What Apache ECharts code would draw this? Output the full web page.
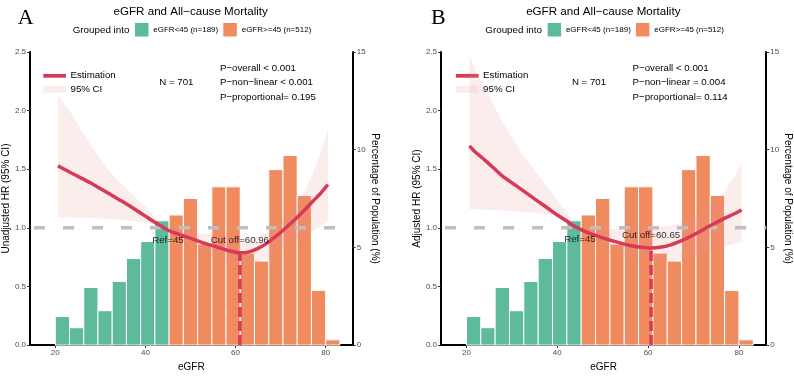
<!DOCTYPE html>
<html>
<head>
<meta charset="utf-8">
<script src="https://cdn.jsdelivr.net/npm/echarts@6/dist/echarts.min.js"></script>
<style>
html,body{margin:0;padding:0;background:#fff;overflow:hidden;}
#chart{width:794px;height:377px;}
</style>
</head>
<body>
<div id="chart"></div>
<script>
// ---------- data ----------
const panelLetters = ['A', 'B'];
const titleText = 'eGFR and All\u2212cause Mortality';
const groupLabels = ['eGFR<45 (n=189)', 'eGFR>=45 (n=512)'];
const yAxisNames = ['Unadjusted HR (95% CI)', 'Adjusted HR (95% CI)'];
const y2AxisName = 'Percentage of Population (%)';
const xAxisName = 'eGFR';
const nText = 'N = 701';
const pTextsUnadj = ['P\u2212overall < 0.001', 'P\u2212non\u2212linear < 0.001', 'P\u2212proportional= 0.195'];
const pTextsAdj = ['P\u2212overall < 0.001', 'P\u2212non\u2212linear = 0.004', 'P\u2212proportional= 0.114'];

const hrTicks = [0, 0.5, 1.0, 1.5, 2.0, 2.5];
const pctTicks = [0, 5, 10, 15];
const xTicks = [20, 40, 60, 80];

// histogram (percentage of population per eGFR bin)
const binStart = [20.00, 23.16, 26.32, 29.47, 32.63, 35.79, 38.95, 42.11, 45.26, 48.42,
                  51.58, 54.74, 57.89, 61.05, 64.21, 67.37, 70.53, 73.68, 76.84, 80.00];
const binWidth = 3.16;
const binPct = [1.46, 0.89, 2.95, 1.76, 3.26, 4.43, 5.30, 6.36, 6.66, 7.50,
                5.17, 8.10, 8.10, 4.71, 4.30, 8.98, 9.70, 7.66, 2.80, 0.27];
const refValue = 45;

// unadjusted spline
const egfrUnadj = [20.6, 22, 24, 26, 28, 30, 32, 34, 36, 38, 40, 42, 43.5, 45, 47, 50, 53, 56, 58.5, 61,
                   63, 65, 67, 69, 71, 73, 75, 77, 79, 80.5];
const hrUnadj = [1.53, 1.50, 1.46, 1.42, 1.38, 1.335, 1.29, 1.245, 1.20, 1.15, 1.10, 1.05, 1.015, 0.98, 0.95,
                 0.91, 0.87, 0.835, 0.805, 0.787, 0.795, 0.825, 0.87, 0.93, 0.995, 1.065, 1.14, 1.22, 1.30, 1.37];
const loUnadj = [1.09, 1.089, 1.088, 1.086, 1.084, 1.08, 1.076, 1.07, 1.063, 1.055, 1.045, 1.03, 1.005, 0.98, 0.93,
                 0.86, 0.79, 0.74, 0.70, 0.68, 0.685, 0.705, 0.74, 0.785, 0.83, 0.87, 0.92, 0.97, 1.015, 1.05];
const hiUnadj = [2.14, 2.06, 1.95, 1.82, 1.70, 1.59, 1.49, 1.40, 1.33, 1.25, 1.18, 1.10, 1.04, 0.98, 0.975,
                 0.965, 0.95, 0.93, 0.915, 0.90, 0.905, 0.925, 0.96, 1.01, 1.08, 1.17, 1.29, 1.45, 1.65, 1.84];
const cutUnadj = 60.96, cutHrUnadj = 0.787;

// adjusted spline
const egfrAdj = [20.66, 22, 24, 26, 28, 30, 32, 34, 36, 38, 40, 42, 43.5, 45, 47, 50, 53, 56, 58.5, 60.65,
                 63, 65, 67, 69, 71, 73, 75, 77, 79, 80.6];
const hrAdj = [1.70, 1.645, 1.58, 1.51, 1.44, 1.385, 1.33, 1.275, 1.22, 1.165, 1.11, 1.06, 1.02, 0.99, 0.955,
               0.915, 0.88, 0.85, 0.835, 0.828, 0.837, 0.855, 0.885, 0.92, 0.96, 1.005, 1.045, 1.085, 1.12, 1.152];
const loAdj = [1.16, 1.158, 1.155, 1.152, 1.148, 1.143, 1.138, 1.132, 1.125, 1.115, 1.10, 1.075, 1.035, 0.99, 0.93,
               0.86, 0.80, 0.755, 0.725, 0.71, 0.71, 0.715, 0.73, 0.75, 0.77, 0.79, 0.815, 0.84, 0.865, 0.88];
const hiAdj = [2.47, 2.34, 2.20, 2.05, 1.90, 1.77, 1.65, 1.54, 1.44, 1.34, 1.24, 1.14, 1.06, 0.99, 0.99,
               0.99, 0.99, 0.99, 0.995, 1.00, 1.01, 1.02, 1.04, 1.07, 1.11, 1.16, 1.23, 1.32, 1.44, 1.55];
const cutAdj = 60.65, cutHrAdj = 0.828;

// ---------- styles / layout ----------
const GREEN = '#5DBA9B', ORANGE = '#F08A5F', RED = '#D73A56';
const BAND = 'rgba(240,150,150,0.17)';
const FONT = 'Liberation Sans';
const xMin = 14.4, xMax = 86;
const grids = [
  {left: 29, top: 52, width: 323.7, height: 301},
  {left: 441, top: 52, width: 325.7, height: 301}
];
const labelHR = [[0.89, 0.89], [0.905, 0.94]];

const panels = [
  {egfr: egfrUnadj, hr: hrUnadj, lo: loUnadj, hi: hiUnadj, cut: cutUnadj, cutHr: cutHrUnadj, p: pTextsUnadj},
  {egfr: egfrAdj, hr: hrAdj, lo: loAdj, hi: hiAdj, cut: cutAdj, cutHr: cutHrAdj, p: pTextsAdj}
];

const chart = echarts.init(document.getElementById('chart'), null, {renderer: 'canvas'});

const xAxes = [], yAxes = [], series = [], graphics = [];

panels.forEach((pn, k) => {
  xAxes.push({
    gridIndex: k, type: 'value', min: xMin, max: xMax,
    name: xAxisName, nameLocation: 'middle', nameGap: 12,
    nameTextStyle: {fontFamily: FONT, fontSize: 10, color: '#000'},
    splitLine: {show: false},
    axisLine: {show: true, onZero: false, lineStyle: {color: '#000', width: 2}},
    axisTick: {show: true, length: 3, customValues: xTicks, lineStyle: {color: '#333'}},
    axisLabel: {customValues: xTicks, fontFamily: FONT, fontSize: 8, color: '#4D4D4D', margin: 4}
  });
  yAxes.push({
    gridIndex: k, type: 'value', min: 0, max: 2.5, interval: 0.5, position: 'left',
    name: yAxisNames[k], nameLocation: 'middle', nameGap: 17,
    nameTextStyle: {fontFamily: FONT, fontSize: 10, color: '#000'},
    splitLine: {show: false},
    axisLine: {show: true, onZero: false, lineStyle: {color: '#000', width: 2}},
    axisTick: {show: true, length: 3, lineStyle: {color: '#333'}},
    axisLabel: {fontFamily: FONT, fontSize: 8, color: '#4D4D4D', margin: 4,
                formatter: v => hrTicks.indexOf(v) >= 0 ? v.toFixed(1) : ''}
  });
  yAxes.push({
    gridIndex: k, type: 'value', min: 0, max: 15, interval: 5, position: 'right',
    name: y2AxisName, nameLocation: 'middle', nameGap: 16, nameRotate: -90,
    nameTextStyle: {fontFamily: FONT, fontSize: 10, color: '#000'},
    splitLine: {show: false},
    axisLine: {show: true, onZero: false, lineStyle: {color: '#000', width: 2}},
    axisTick: {show: true, length: 3, lineStyle: {color: '#333'}},
    axisLabel: {fontFamily: FONT, fontSize: 8, color: '#4D4D4D', margin: 4,
                formatter: v => pctTicks.indexOf(v) >= 0 ? String(v) : ''}
  });
  const yHR = 2 * k, yPct = 2 * k + 1;

  series.push({
    type: 'custom', xAxisIndex: k, yAxisIndex: yPct, silent: true, z: 1,
    data: binStart.map((s, i) => [s, binPct[i], binWidth, s < refValue ? 0 : 1]),
    encode: {x: 0, y: 1},
    renderItem: (params, api) => {
      const x0 = api.value(0), v = api.value(1), w = api.value(2), g = api.value(3);
      const a = api.coord([x0, v]), b = api.coord([x0 + w, 0]);
      return {type: 'rect', shape: {x: a[0], y: a[1], width: b[0] - a[0], height: b[1] - a[1]},
              style: {fill: g === 0 ? GREEN : ORANGE, stroke: '#fff', lineWidth: 1}};
    }
  });
  series.push({
    type: 'custom', xAxisIndex: k, yAxisIndex: yHR, silent: true, z: 2,
    data: [[pn.egfr[0], pn.hr[0]]],
    encode: {x: 0, y: 1},
    renderItem: (params, api) => {
      const pts = [];
      pn.egfr.forEach((x, i) => pts.push(api.coord([x, pn.hi[i]])));
      for (let i = pn.egfr.length - 1; i >= 0; i--) pts.push(api.coord([pn.egfr[i], pn.lo[i]]));
      return {type: 'polygon', shape: {points: pts}, style: {fill: BAND}};
    }
  });
  series.push({
    type: 'line', xAxisIndex: k, yAxisIndex: yHR, silent: true, z: 3,
    data: [[xMin, 1], [xMax, 1]], symbol: 'none',
    lineStyle: {color: '#BFBFBF', width: 3.5, type: [11, 18], dashOffset: -4}
  });
  series.push({
    type: 'line', xAxisIndex: k, yAxisIndex: yHR, silent: true, z: 4,
    data: pn.egfr.map((x, i) => [x, pn.hr[i]]), symbol: 'none', smooth: 0.3,
    lineStyle: {color: RED, width: 3.5}
  });
  series.push({
    type: 'line', xAxisIndex: k, yAxisIndex: yHR, silent: true, z: 4,
    data: [[pn.cut, 0], [pn.cut, pn.cutHr]], symbol: 'none',
    lineStyle: {color: RED, width: 3.5, type: [10, 4]}
  });
  series.push({
    type: 'scatter', xAxisIndex: k, yAxisIndex: yHR, silent: true, z: 5,
    symbolSize: 0,
    data: [
      {value: [refValue, labelHR[k][0]], label: {formatter: 'Ref=' + refValue}},
      {value: [pn.cut, labelHR[k][1]], label: {formatter: 'Cut off=' + pn.cut.toFixed(2)}}
    ],
    label: {show: true, position: 'inside', fontFamily: FONT, fontSize: 9.7, color: '#000'}
  });

  const dx = k === 0 ? 0 : 412.6;
  const txt = (t, x, y, size, opts) => graphics.push(Object.assign({
    type: 'text', silent: true,
    style: Object.assign({text: t, x: x + dx, y: y, fill: '#000',
      font: 'normal ' + size + 'px "' + FONT + '"', textAlign: 'left', textVerticalAlign: 'middle'}, opts || {})
  }));
  graphics.push({type: 'text', silent: true, style: {text: panelLetters[k], x: 25.7 + dx, y: 18.5,
    font: 'normal 22px "Liberation Serif"', fill: '#000', textAlign: 'center', textVerticalAlign: 'middle'}});
  txt(titleText, 190.7, 12, 11.6, {textAlign: 'center'});
  txt('Grouped into', 72.7, 30, 9.8);
  graphics.push({type: 'rect', silent: true, shape: {x: 134.5 + dx, y: 22.5, width: 14.5, height: 14.5},
    style: {fill: GREEN, stroke: '#fff', lineWidth: 1}});
  txt(groupLabels[0], 153.3, 30, 8);
  graphics.push({type: 'rect', silent: true, shape: {x: 222.8 + dx, y: 22.5, width: 14.5, height: 14.5},
    style: {fill: ORANGE, stroke: '#fff', lineWidth: 1}});
  txt(groupLabels[1], 241.7, 30, 8);
  graphics.push({type: 'line', silent: true, shape: {x1: 43.3 + dx, y1: 75.8, x2: 66 + dx, y2: 75.8},
    style: {stroke: RED, lineWidth: 3.8}});
  txt('Estimation', 70.5, 75.5, 9.7);
  graphics.push({type: 'line', silent: true, shape: {x1: 43.3 + dx, y1: 89.3, x2: 66 + dx, y2: 89.3},
    style: {stroke: BAND, lineWidth: 7}});
  txt('95% CI', 70.5, 89.5, 9.7);
  txt(nText, 159.3, 82.7, 9.7);
  pn.p.forEach((t, i) => txt(t, 220, 68 + i * 14.6, 9.7));
});

chart.setOption({
  animation: false,
  backgroundColor: '#fff',
  grid: grids.map(g => Object.assign({containLabel: false}, g)),
  xAxis: xAxes,
  yAxis: yAxes,
  series: series,
  graphic: graphics
});
</script>
</body>
</html>
